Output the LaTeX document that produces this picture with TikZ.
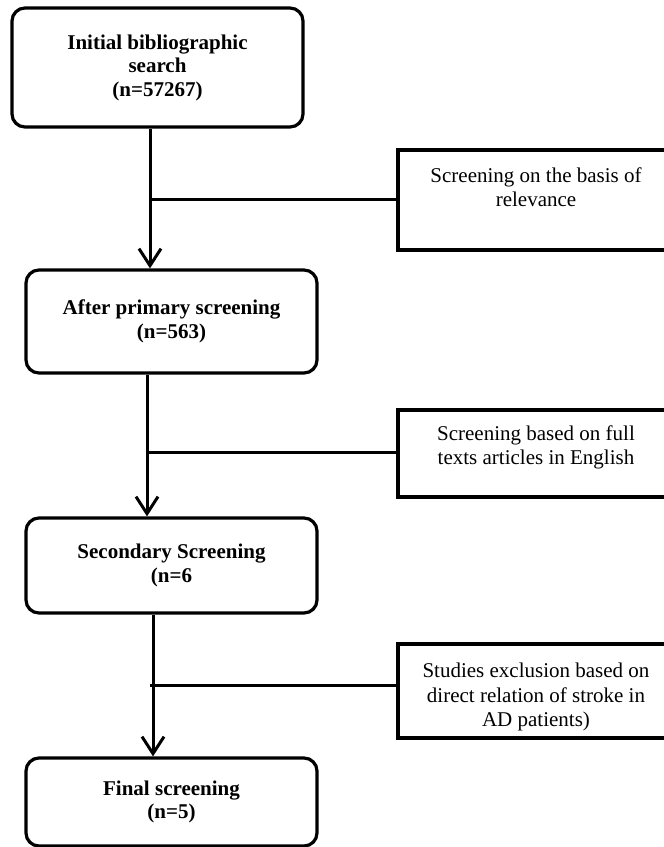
\documentclass[tikz,border=0pt]{standalone}
\usepackage{fontspec}
\setmainfont{Liberation Serif}
\usetikzlibrary{arrows.meta}
\begin{document}
\begin{tikzpicture}[x=1pt,y=1pt,
  mainbox/.style={draw=black, line width=3.2pt, rounded corners=13pt, minimum width=291pt, align=center, inner sep=0pt,
    font=\fontsize{21}{23.5}\selectfont\bfseries},
  sidebox/.style={draw=black, line width=3.2pt, minimum width=276pt, inner sep=0pt},
  sidetext/.style={align=center, inner sep=0pt, font=\fontsize{21}{24.5}\selectfont},
  conn/.style={line width=3pt},
  arr/.style={line width=3pt, -{Straight Barb[length=17pt, width=22pt, line width=3pt]}}
]
\useasboundingbox (0,0) rectangle (664,-847);
\clip (0,0) rectangle (664,-847);
\fill[white] (0,0) rectangle (664,-847);

% main boxes
\node[mainbox, minimum height=119pt] (b1) at (157.5,-67.5) {Initial bibliographic\\search\\(n=57267)};
\node[mainbox, minimum height=103pt] (b2) at (171.5,-321.5) {After primary screening\\(n=563)};
\node[mainbox, minimum height=95pt] (b3) at (171.5,-565.5) {Secondary Screening\\(n=6};
\node[mainbox, minimum height=88pt] (b4) at (171.5,-802) {Final screening\\(n=5)};

% side boxes
\node[sidebox, minimum height=100pt] (s1) at (536,-200) {};
\node[sidetext] (s1t) at (536,-187) {Screening on the basis of\\relevance};
\node[sidebox, minimum height=87pt] (s2) at (536,-453.5) {};
\node[sidetext] (s2t) at (536,-447.5) {Screening based on full\\texts articles in English};
\node[sidebox, minimum height=94pt] (s3) at (536,-691) {};
\node[sidetext] (s3t) at (536,-697) {Studies exclusion based on\\direct relation of stroke in\\AD patients)};

% arrow columns and junctions
\coordinate (a1) at (150,0);
\coordinate (a2) at (147,0);
\coordinate (a3) at (153,0);
\coordinate (j1) at (150,-199);
\coordinate (j2) at (147,-452);
\coordinate (j3) at (153,-685);

\draw[arr] (b1.south -| a1) -- (b2.north -| a1);
\draw[arr] (b2.south -| a2) -- (b3.north -| a2);
\draw[arr] (b3.south -| a3) -- (b4.north -| a3);

\draw[conn] (j1) -- (j1 -| s1.west);
\draw[conn] (j2) -- (j2 -| s2.west);
\draw[conn] ([xshift=-3pt]j3) -- (j3 -| s3.west);
\end{tikzpicture}
\end{document}
